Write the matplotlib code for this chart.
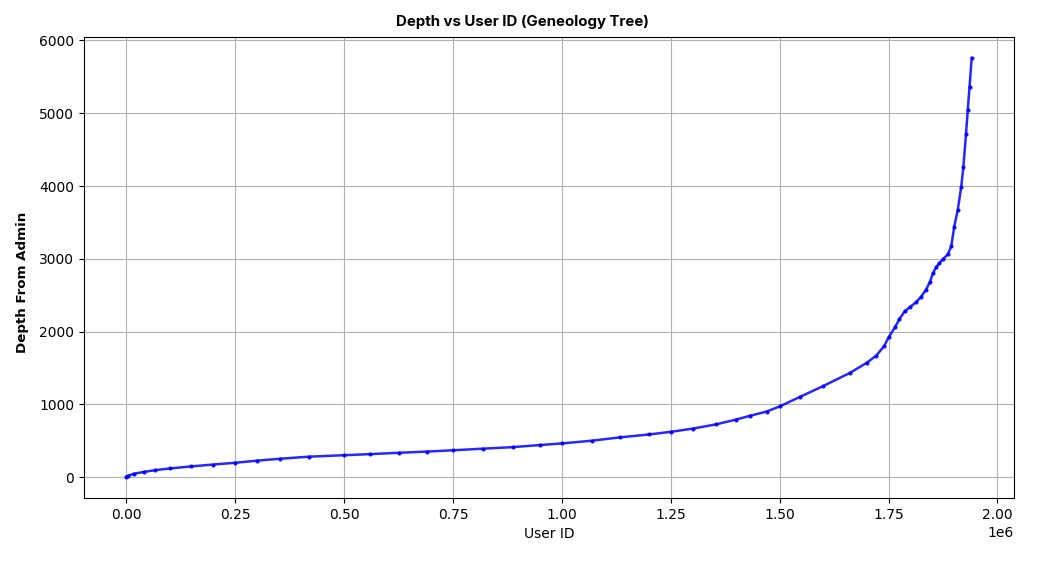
import matplotlib
matplotlib.use("Agg")
import matplotlib.pyplot as plt

# User ID (in millions) and depth from admin
user_id_m = [0, 0.005, 0.018, 0.04, 0.067, 0.1, 0.149, 0.2, 0.25, 0.3, 0.354, 0.42,
             0.5, 0.56, 0.625, 0.69, 0.75, 0.82, 0.887, 0.95, 1.0, 1.07, 1.133, 1.2,
             1.25, 1.3, 1.355, 1.4, 1.431, 1.47, 1.5, 1.546, 1.6, 1.661, 1.7, 1.722,
             1.74, 1.75, 1.765, 1.775, 1.787, 1.8, 1.813, 1.825, 1.836, 1.845, 1.852,
             1.86, 1.867, 1.876, 1.886, 1.894, 1.901, 1.909, 1.917, 1.922, 1.928,
             1.932, 1.936, 1.941]
depth = [0, 20, 46, 70, 95, 118, 146, 172, 196, 225, 252, 280,
         300, 315, 333, 350, 368, 390, 411, 440, 462, 500, 545, 585,
         621, 665, 725, 790, 840, 900, 970, 1100, 1250, 1430, 1570, 1670,
         1800, 1918, 2060, 2170, 2278, 2340, 2400, 2480, 2575, 2680, 2800,
         2890, 2941, 3000, 3060, 3169, 3443, 3671, 3991, 4265, 4721,
         5041, 5360, 5760]

user_id = [v * 1e6 for v in user_id_m]

fig = plt.figure(figsize=(10.45, 5.65), dpi=100)
ax = fig.add_axes([0.0804, 0.1186, 0.8899, 0.8159])
ax.plot(user_id, depth, color="blue", marker="o", markersize=2.0,
        linewidth=1.8, alpha=0.85)
ax.grid(True, color="#b0b0b0", linewidth=0.8)
fig.suptitle("Depth vs User ID (Geneology Tree)", x=0.5, y=1 - 22 / 565,
             va="center", fontsize=10.8, fontweight="bold",
             family=["Inter", "DejaVu Sans"])
ax.set_xlabel("User ID", fontsize=10)
fig.supylabel("Depth From Admin", x=23 / 1045, y=0.5, ha="center", va="center",
              fontsize=9.6, fontweight="bold")
fig.savefig("out.png", dpi=100)
